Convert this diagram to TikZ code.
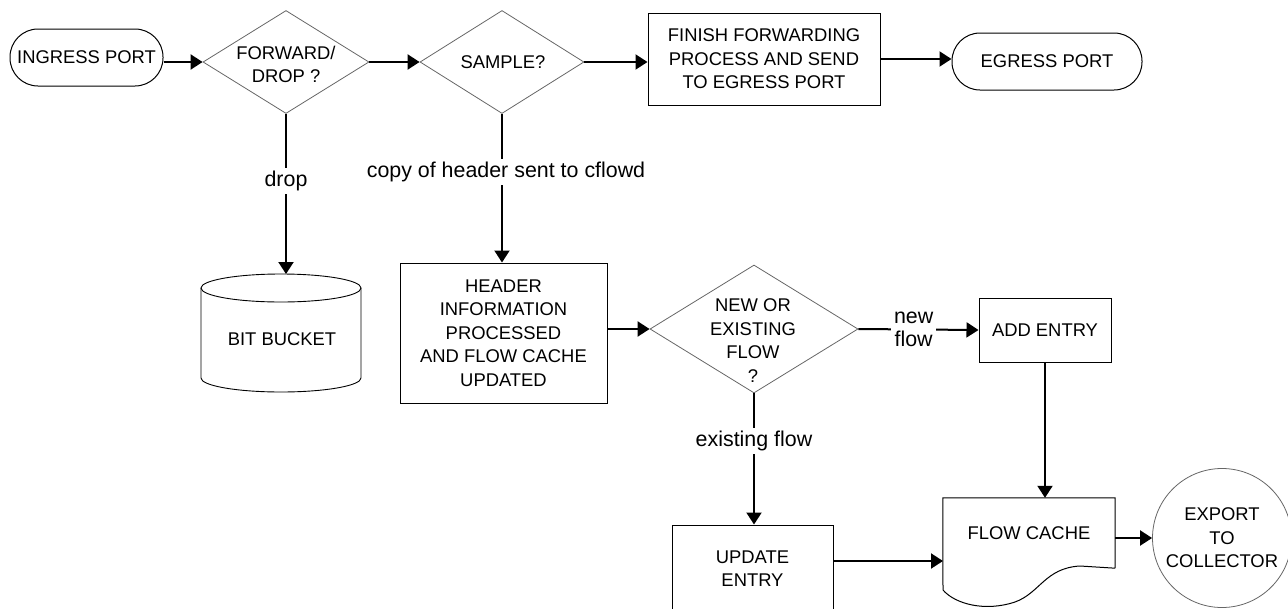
\documentclass[tikz,border=0pt]{standalone}
\usepackage{fontspec}
\setmainfont{Liberation Sans}
\usetikzlibrary{arrows.meta,calc,shapes.geometric}
\newcommand\dgfont{\fontsize{18.4}{23.5}\selectfont}
\newcommand\lblfont{\fontsize{21.4}{23.5}\selectfont}
\begin{document}
\begin{tikzpicture}[x=1pt,y=-1pt,
  conn/.style={line width=2pt, -{Triangle[length=12pt,width=15pt]}},
  box/.style={draw, line width=1pt, align=center, font=\dgfont, inner sep=0pt},
  term/.style={box, rounded corners=28pt},
  dia/.style={diamond, draw=black!60, line width=0.8pt, inner sep=0pt},
  txt/.style={align=center, font=\dgfont, inner sep=0pt},
  lbl/.style={align=center, font=\lblfont, fill=white, inner sep=3pt},
  outline/.style={draw, line width=0.9pt}
]
\useasboundingbox (0,0) rectangle (1288,608);

% top row
\node[term, minimum width=153pt, minimum height=57pt] (ing) at (86.5,57.5) {INGRESS PORT};
\node[dia, minimum width=166pt, minimum height=103pt] (fwd) at (286,62) {};
\node[txt] (fwdt) at (286,64.5) {FORWARD/\\DROP ?};
\node[dia, minimum width=164pt, minimum height=103pt] (samp) at (502,62) {};
\node[txt] (sampt) at (503,62) {SAMPLE?};
\node[box, minimum width=232pt, minimum height=92pt] (fin) at (764,59) {FINISH FORWARDING\\PROCESS AND SEND\\TO EGRESS PORT};
\node[term, minimum width=190pt, minimum height=57pt] (egr) at (1047,61.5) {EGRESS PORT};

% bit bucket
\draw[outline] (281,288) ellipse [x radius=80, y radius=14];
\draw[outline] (201,288) -- (201,378) .. controls (201,385.7) and (236.8,392) .. (281,392) .. controls (325.2,392) and (361,385.7) .. (361,378) -- (361,288);
\node[txt] (bucket) at (282,339) {BIT BUCKET};
\coordinate (bucktop) at (286,274);

% middle row
\node[box, minimum width=207pt, minimum height=140pt] (hdr) at (503.5,333) {HEADER\\INFORMATION\\PROCESSED\\AND FLOW CACHE\\UPDATED};
\node[dia, minimum width=208pt, minimum height=128pt] (new) at (754,329) {};
\node[txt] (newt) at (753,340.5) {NEW OR\\EXISTING\\FLOW\\?};
\node[box, minimum width=132pt, minimum height=64pt] (add) at (1045,330) {ADD ENTRY};

% bottom row
\node[box, minimum width=161pt, minimum height=87pt] (upd) at (752.5,568.5) {UPDATE\\ENTRY};
\node[txt, minimum width=172pt, minimum height=70pt] (fc) at (1029,533) {FLOW CACHE};
\draw[line width=1pt] (fc.south east) -- (fc.north east) -- (fc.north west) -- (943,590)
  .. controls (955,604) and (985,612) .. (1015,602)
  .. controls (1040,593) and (1045,568) .. (1080,566) -- (fc.south east);
\node[circle, draw=black!60, line width=0.8pt, minimum size=139pt, inner sep=0pt, align=center, font=\dgfont] (exp) at (1222,538) {EXPORT\\TO\\COLLECTOR};
\coordinate (fcin) at (943,561);

% connectors
\draw[conn] (ing.east |- fwd.west) -- (fwd.west);
\draw[conn] (fwd.east) -- (samp.west);
\draw[conn] (samp.east) -- (samp.east -| fin.west);
\draw[conn] (fin.east) -- (fin.east -| egr.west);
\draw[conn] (fwd.south) -- node[lbl, pos=0.42] (droplbl) {drop} (bucktop);
\draw[conn] (samp.south) -- node[lbl, pos=0.39, xshift=4pt] (copylbl) {copy of header sent to cflowd} (samp.south |- hdr.north);
\draw[conn] (hdr.east |- new.west) -- (new.west);
\draw[conn] (new.east) -- node[lbl, pos=0.46] (newlbl) {new\\flow} (add.west);
\draw[conn] (new.south) -- node[lbl, pos=0.36] (exlbl) {existing flow} (new.south |- upd.north);
\draw[conn] (add.south) -- (add.south |- fc.north);
\draw[conn] (upd.east |- fcin) -- (fcin);
\draw[conn] (fc.east |- exp.west) -- (exp.west);
\end{tikzpicture}
\end{document}
